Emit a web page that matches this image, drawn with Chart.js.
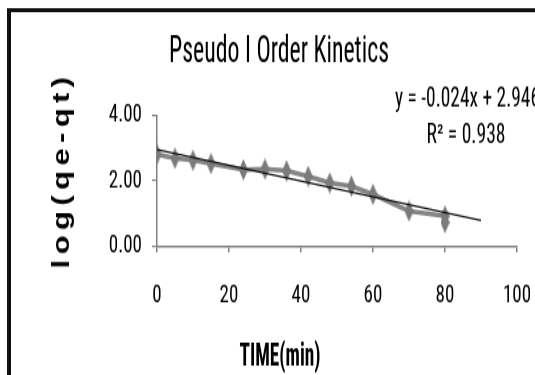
<!DOCTYPE html>
<html>
<head>
<meta charset="utf-8">
<script src="https://cdn.jsdelivr.net/npm/chart.js@4/dist/chart.umd.min.js"></script>
<style>
  body { margin: 0; background: #fff; }
  #outer { width: 535px; height: 375px; overflow: hidden; }
  /* the original picture is an Excel chart stretched vertically, so stretch ours too */
  #wrap { width: 535px; height: 278px; transform: scaleY(1.349); transform-origin: 0 0; }
</style>
</head>
<body>
<div id="outer"><div id="wrap"><canvas id="kineticsChart" width="535" height="278"></canvas></div></div>
<script>
// ---- data ----
const timeMin = [0, 5, 10, 15, 24, 30, 36, 42, 48, 54, 60, 70, 80, 80];
const logQeQt = [2.80, 2.68, 2.62, 2.52, 2.33, 2.35, 2.30, 2.13, 1.93, 1.83, 1.58, 1.07, 0.92, 0.72];
const xTicks = [0, 20, 40, 60, 80, 100];
const yTicks = [0, 2, 4];
// trendline as printed on the chart
const trendSlope = -0.024;
const trendIntercept = 2.946;
const trendRange = [0, 90];

const COND = "'Roboto Condensed', 'Liberation Sans', Arial, sans-serif";

// --- grey diamond marker ---
function diamond(w, h, color) {
      const c = document.createElement("canvas");
      c.width = w;
      c.height = h;
      const g = c.getContext("2d");
      g.fillStyle = color;
      g.beginPath();
      g.moveTo(w / 2, 0);
      g.lineTo(w, h / 2);
      g.lineTo(w / 2, h);
      g.lineTo(0, h / 2);
      g.closePath();
      g.fill();
      return c;
}

// text squeezed to a given width
function fitText(ctx, txt, x, y, width, align) {
      const w = ctx.measureText(txt).width;
      ctx.save();
      ctx.translate(x, y);
      ctx.scale(width / w, 1);
      ctx.textAlign = align;
      ctx.fillText(txt, 0, 0);
      ctx.restore();
}

// --- texts + frame ---
const extras = {
      id: "extras",
      beforeDraw(chart) {
            const ctx = chart.ctx;
            ctx.save();
            ctx.fillStyle = "#fff";
            ctx.fillRect(0, 0, chart.width, chart.height);
            ctx.restore();
      },
      afterDraw(chart) {
            const ctx = chart.ctx;
            ctx.save();
            // frame
            ctx.fillStyle = "#111";
            ctx.fillRect(7, 6, chart.width - 7, 3);
            ctx.fillRect(7, 6, 4, chart.height - 6);

            ctx.fillStyle = "#000";
            ctx.textBaseline = "alphabetic";

            // title
            ctx.font = "27px " + COND;
            fitText(ctx, "Pseudo I Order Kinetics", 279, 46, 220, "center");

            // equation + R²
            ctx.font = "20px " + COND;
            fitText(ctx, "y = -0.024x + 2.946", 395, 78.6, 145, "left");
            fitText(ctx, "R² = 0.938", 466, 106, 79, "center");

            // x title
            ctx.font = "bold 23px " + COND;
            fitText(ctx, "TIME(min)", 280, 270.5, 81, "center");

            // y title
            ctx.save();
            ctx.translate(69, 128);
            ctx.rotate(-Math.PI / 2);
            ctx.textAlign = "center";
            ctx.font = "bold 23px 'Liberation Sans', Arial, sans-serif";
            ctx.letterSpacing = "4px";
            ctx.fillText("log(qe-qt)", 2, 0);
            ctx.restore();

            ctx.restore();
      },
};

const points = timeMin.map((t, i) => ({ x: t, y: logQeQt[i] }));
const trend = trendRange.map((t) => ({ x: t, y: trendSlope * t + trendIntercept }));

new Chart(document.getElementById("kineticsChart"), {
      type: "scatter",
      data: {
            datasets: [
                  {
                        label: "trend",
                        data: trend,
                        showLine: true,
                        borderColor: "#111",
                        borderWidth: 1.3,
                        pointRadius: 0,
                  },
                  {
                        label: "log(qe-qt)",
                        data: points,
                        showLine: true,
                        borderColor: "#858585",
                        borderWidth: 3.5,
                        pointStyle: diamond(9, 16, "#7b7b7b"),
                  },
            ],
      },
      options: {
            responsive: false,
            animation: false,
            devicePixelRatio: 1,
            layout: { padding: { left: 0, right: 18, top: 85.3, bottom: 0 } },
            plugins: {
                  legend: { display: false },
                  tooltip: { enabled: false },
                  title: { display: false },
            },
            scales: {
                  x: {
                        type: "linear",
                        min: xTicks[0],
                        max: xTicks[xTicks.length - 1],
                        afterBuildTicks: (s) => { s.ticks = xTicks.map((v) => ({ value: v })); },
                        afterFit: (s) => {
                              s.height = 278 - 182.4;
                              s.paddingLeft = 0;
                              s.paddingRight = 0;
                        },
                        ticks: { color: "#000", font: { family: COND, size: 19 }, padding: 21 },
                        grid: { drawOnChartArea: false, color: "#808080", tickLength: 4.5, lineWidth: 1.5 },
                        border: { color: "#808080", width: 1.6 },
                  },
                  y: {
                        min: yTicks[0],
                        max: yTicks[yTicks.length - 1],
                        afterBuildTicks: (s) => { s.ticks = yTicks.map((v) => ({ value: v })); },
                        afterFit: (s) => { s.width = 157; },
                        ticks: {
                              color: "#000",
                              font: { family: COND, size: 19 },
                              padding: 10,
                              callback: (v) => v.toFixed(2),
                        },
                        grid: { drawOnChartArea: false, color: "#808080", tickLength: 5, lineWidth: 1.2 },
                        border: { color: "#808080", width: 1.5 },
                  },
            },
      },
      plugins: [extras],
});
</script>
</body>
</html>
